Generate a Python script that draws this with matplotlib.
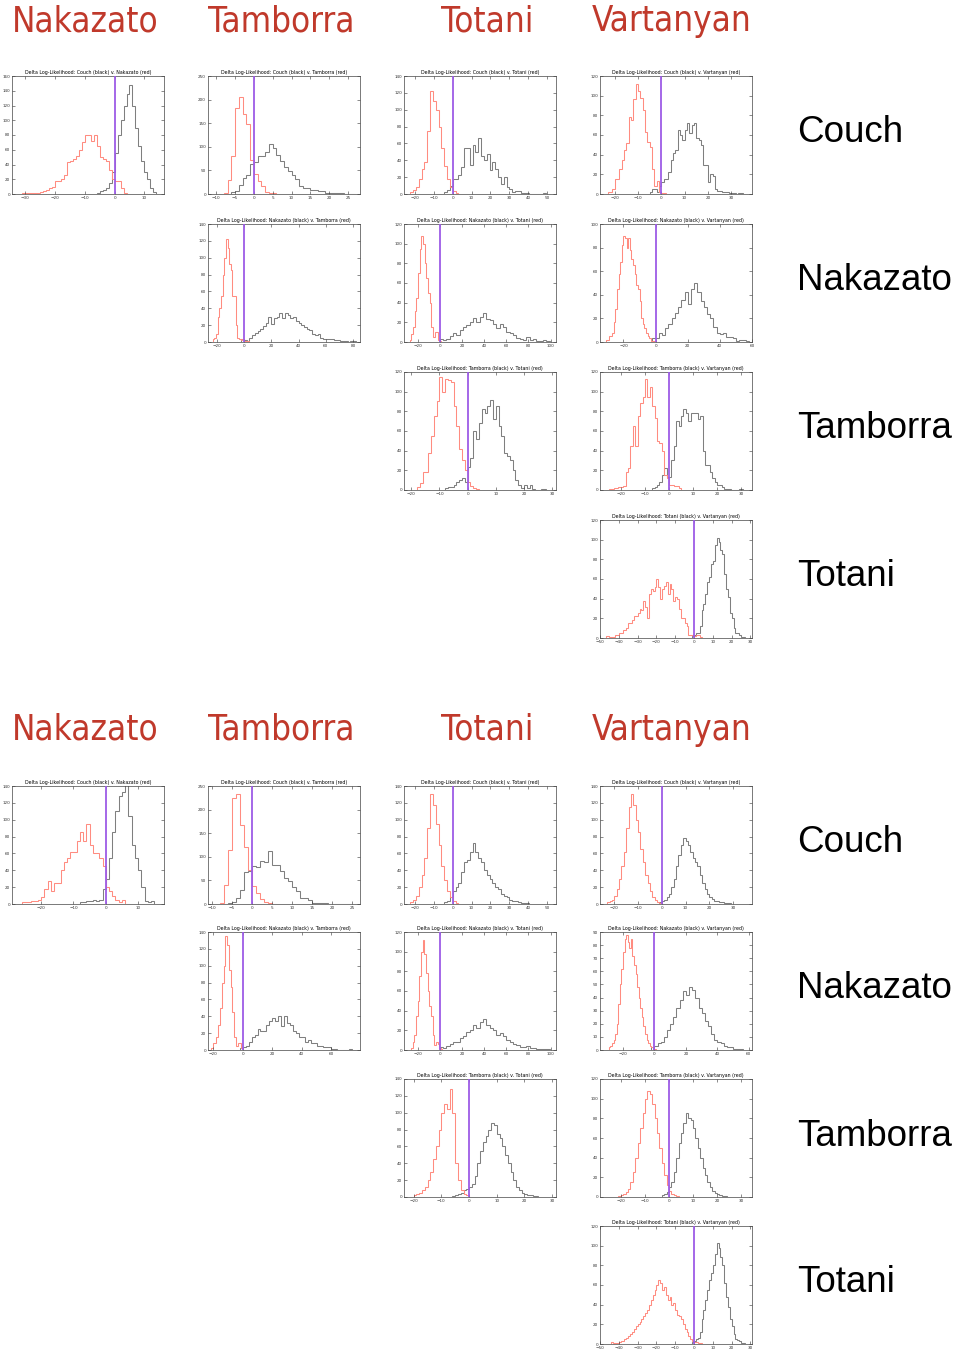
import numpy as np
import matplotlib
matplotlib.use("Agg")
import matplotlib.pyplot as plt
from matplotlib import font_manager
from matplotlib.font_manager import FontProperties
from matplotlib.ticker import MaxNLocator

ROWS = ["Couch", "Nakazato", "Tamborra", "Totani"]
COLS = ["Nakazato", "Tamborra", "Totani", "Vartanyan"]

# each histogram: (first bin edge, bin width, counts per bin)
# each axis: (xmin, xmax, ymax)

# --- upper block ---
top_cou_nak_black = (-6, 1.0, [2, 4, 6, 8, 15, 30, 55, 80, 100, 120, 135, 148, 120, 90, 65, 45, 30, 20, 8, 3])
top_cou_nak_red = (-31, 1.0, [1, 1, 1, 1, 2, 2, 3, 4, 6, 8, 9, 17, 18, 20, 26, 44, 45, 48, 52, 60, 70, 80, 80, 72,
                              80, 65, 50, 47, 45, 32, 20, 18, 17, 8, 2])
top_cou_nak_axis = (-34.5, 16.6, 160)

top_cou_tam_black = (-6, 1.0, [5, 7, 20, 33, 40, 63, 68, 80, 80, 90, 105, 97, 82, 70, 58, 48, 40, 32, 18, 12, 12, 8,
                               8, 6, 6, 3, 3, 2, 2, 2, 1, 1, 1])
top_cou_tam_red = (-8, 1.0, [3, 30, 80, 183, 205, 170, 148, 72, 43, 27, 18, 5, 2, 2])
top_cou_tam_axis = (-12.2, 28.2, 250)

top_cou_tot_black = (-4.5, 1.5, [2, 5, 10, 18, 18, 22, 32, 55, 54, 35, 58, 50, 66, 45, 40, 48, 28, 38, 30, 20, 12, 20,
                                 8, 6, 2, 3, 3, 1, 1, 1, 0, 0, 0, 0, 0, 1])
top_cou_tot_red = (-22.5, 1.5, [2, 5, 8, 18, 30, 38, 75, 122, 110, 100, 80, 55, 33, 18, 8, 3, 1])
top_cou_tot_axis = (-25.8, 54.7, 140)

top_cou_var_black = (-5, 1.0, [2, 5, 5, 2, 8, 12, 15, 15, 22, 35, 42, 45, 65, 60, 55, 65, 72, 62, 70, 72, 57, 55, 50,
                               30, 30, 12, 20, 18, 5, 3, 3, 2, 2, 2, 1, 1, 1, 0, 1, 1])
top_cou_var_red = (-23, 1.0, [2, 2, 5, 15, 15, 25, 35, 45, 52, 78, 75, 97, 112, 105, 98, 85, 63, 53, 48, 25, 8, 13, 2,
                              1, 1])
top_cou_var_axis = (-26.3, 38.9, 120)

top_nak_tam_black = (-2, 2.0, [3, 2, 1, 5, 8, 11, 13, 16, 19, 22, 30, 21, 28, 30, 34, 28, 35, 32, 28, 30, 25, 22, 20,
                               18, 15, 14, 10, 8, 9, 5, 4, 3, 4, 4, 2, 2, 1, 1, 1, 0, 1, 1])
top_nak_tam_red = (-22.8, 1.2, [3, 5, 10, 30, 40, 55, 80, 100, 122, 112, 92, 85, 55, 55, 20, 5, 3, 2, 3, 1, 1, 1])
top_nak_tam_axis = (-26.3, 85, 140)

top_nak_tot_black = (0, 3.0, [3, 2, 3, 6, 9, 7, 12, 15, 17, 20, 24, 20, 25, 30, 23, 22, 18, 14, 18, 15, 10, 9, 7, 4,
                              3, 2, 5, 2, 3, 1, 1, 2, 1])
top_nak_tot_red = (-27, 1.5, [2, 8, 15, 32, 45, 70, 95, 108, 100, 80, 65, 50, 40, 15, 5, 10, 10, 2, 1])
top_nak_tot_axis = (-32.2, 104.8, 120)

top_nak_var_black = (-2, 2.0, [3, 3, 8, 6, 12, 15, 20, 25, 30, 36, 42, 32, 45, 50, 42, 35, 30, 24, 20, 13, 8, 7, 8, 4,
                               4, 3, 1, 2, 2, 1])
top_nak_var_red = (-31, 1.0, [2, 2, 5, 5, 8, 17, 28, 45, 58, 68, 82, 90, 88, 80, 88, 78, 70, 65, 58, 48, 45, 35, 20,
                              15, 12, 8, 5, 3, 1, 1, 1])
top_nak_var_axis = (-34.6, 60, 100)

top_tam_tot_black = (-8, 1.0, [2, 3, 3, 5, 8, 10, 12, 8, 23, 33, 60, 52, 68, 82, 78, 85, 92, 72, 85, 65, 55, 38, 35,
                               30, 20, 10, 5, 2, 5, 2, 5, 1, 0, 0, 1, 1])
top_tam_tot_red = (-18, 1.0, [3, 7, 18, 18, 38, 55, 75, 90, 115, 100, 113, 112, 110, 85, 65, 42, 30, 20, 8, 4, 2, 1])
top_tam_tot_axis = (-22.6, 31.4, 120)

top_tam_var_black = (-7, 1.0, [2, 3, 5, 8, 15, 22, 13, 13, 30, 45, 70, 65, 75, 82, 78, 70, 78, 78, 78, 72, 75, 40, 25,
                               25, 18, 12, 8, 5, 5, 3, 1, 1, 1, 0, 0, 0, 1, 1])
top_tam_var_red = (-25, 1.0, [1, 1, 2, 2, 3, 3, 4, 18, 22, 45, 65, 45, 75, 88, 95, 113, 95, 105, 85, 73, 50, 48, 40,
                              15, 12, 5, 5, 4, 4, 2])
top_tam_var_axis = (-28.7, 34.6, 120)

top_tot_var_black = (-1, 1.0, [2, 3, 5, 5, 12, 28, 35, 45, 57, 62, 75, 78, 95, 102, 98, 90, 85, 65, 50, 42, 25, 20, 10,
                               5, 5, 3, 1, 1])
top_tot_var_red = (-47, 1.0, [2, 2, 1, 1, 1, 3, 3, 5, 5, 8, 8, 10, 15, 15, 18, 22, 22, 25, 30, 28, 38, 32, 20, 45, 50,
                              48, 52, 60, 52, 40, 50, 53, 57, 45, 55, 50, 38, 42, 40, 30, 20, 20, 15, 12, 3, 3, 3, 2,
                              3, 3, 1])
top_tot_var_axis = (-50, 30.8, 120)

# --- lower block ---
bot_cou_nak_black = (-8, 1.0, [2, 2, 3, 3, 5, 3, 5, 18, 30, 55, 85, 110, 128, 133, 150, 105, 70, 55, 40, 20, 3, 2, 3])
bot_cou_nak_red = (-26, 1.0, [2, 2, 2, 3, 3, 5, 8, 18, 27, 15, 25, 25, 40, 50, 55, 62, 62, 75, 85, 75, 95, 70, 60, 60,
                              55, 45, 20, 15, 10, 5, 2, 5])
bot_cou_nak_axis = (-29, 18, 140)

bot_cou_tam_black = (-6, 1.0, [2, 5, 12, 30, 68, 70, 80, 78, 92, 90, 112, 83, 82, 70, 55, 48, 35, 28, 12, 12, 8, 3, 2,
                               2, 2, 1, 1, 1, 1, 1, 1])
bot_cou_tam_red = (-8, 1.0, [3, 40, 115, 225, 233, 168, 120, 72, 38, 24, 10, 4, 2, 1])
bot_cou_tam_axis = (-11, 27, 250)

bot_cou_tot_black = (-4.5, 1.5, [2, 4, 8, 15, 20, 25, 38, 50, 52, 62, 72, 62, 55, 50, 40, 35, 30, 25, 20, 18, 12, 10,
                                 8, 5, 4, 3, 2, 1, 1, 1])
bot_cou_tot_red = (-22.5, 1.5, [2, 5, 10, 20, 35, 55, 90, 130, 118, 95, 70, 45, 28, 15, 8, 3, 1])
bot_cou_tot_axis = (-25.8, 54.7, 140)

bot_cou_var_black = (-1, 1.0, [2, 3, 5, 8, 12, 20, 30, 45, 58, 70, 78, 75, 70, 62, 55, 50, 45, 35, 25, 18, 12, 8, 6,
                               4, 3, 2, 2, 1, 1, 1])
bot_cou_var_red = (-23, 1.0, [2, 3, 5, 10, 18, 30, 45, 62, 90, 115, 130, 118, 100, 85, 65, 50, 35, 25, 15, 8, 5, 2, 1])
bot_cou_var_axis = (-26, 38, 140)

bot_nak_tam_black = (-2, 2.0, [2, 4, 5, 10, 15, 18, 25, 22, 22, 30, 35, 38, 35, 40, 28, 40, 32, 30, 22, 20, 15, 15,
                               10, 12, 8, 8, 5, 5, 3, 3, 3, 1, 1, 0, 0, 0, 0, 1])
bot_nak_tam_red = (-21.4, 1.2, [2, 8, 8, 15, 30, 50, 80, 100, 135, 125, 95, 75, 45, 15, 5, 8, 8, 2])
bot_nak_tam_axis = (-23.5, 79.3, 140)

bot_nak_tot_black = (0, 3.0, [3, 2, 4, 6, 8, 8, 12, 14, 18, 20, 25, 22, 28, 32, 25, 22, 20, 15, 17, 14, 10, 8, 6, 5,
                              3, 3, 4, 2, 2, 1, 1, 1, 1])
bot_nak_tot_red = (-26, 1.5, [2, 8, 15, 35, 50, 75, 100, 112, 98, 78, 60, 45, 35, 15, 5, 8, 6, 2, 1])
bot_nak_tot_axis = (-32.2, 104.8, 120)

bot_nak_var_black = (-2, 2.0, [2, 3, 5, 6, 10, 15, 20, 25, 32, 38, 45, 42, 48, 46, 40, 32, 28, 22, 18, 12, 8, 6, 5, 3,
                               2, 2, 1, 1, 1])
bot_nak_var_red = (-29, 1.0, [2, 3, 5, 8, 12, 20, 35, 50, 62, 75, 85, 88, 82, 78, 85, 72, 65, 58, 48, 40, 32, 25, 18,
                              12, 8, 5, 3, 2, 1, 1])
bot_nak_var_axis = (-34.6, 62, 90)

bot_tam_tot_black = (-6, 1.0, [1, 2, 3, 5, 8, 10, 12, 15, 25, 40, 55, 65, 72, 80, 88, 85, 75, 70, 60, 50, 40, 30, 20,
                               12, 8, 5, 3, 2, 2, 1, 1])
bot_tam_tot_red = (-20, 1.0, [2, 3, 5, 8, 12, 20, 30, 45, 60, 80, 100, 110, 105, 128, 100, 40, 20, 8, 4, 2])
bot_tam_tot_axis = (-23.5, 31.4, 140)

bot_tam_var_black = (-3, 1.0, [2, 3, 5, 10, 15, 25, 40, 55, 65, 75, 85, 80, 78, 70, 60, 50, 40, 30, 22, 15, 10, 6, 4,
                               3, 2, 1, 1])
bot_tam_var_red = (-21, 1.0, [1, 2, 3, 5, 8, 15, 25, 40, 55, 70, 85, 100, 108, 105, 95, 80, 65, 50, 35, 22, 12, 6, 3,
                              2, 1])
bot_tam_var_axis = (-28.7, 34.6, 120)

bot_tot_var_black = (-1, 1.0, [2, 3, 5, 6, 12, 25, 35, 45, 55, 65, 72, 80, 92, 103, 98, 88, 80, 62, 48, 38, 25, 18, 10,
                               5, 4, 3, 1, 1])
bot_tot_var_red = (-44, 1.0, [2, 1, 1, 1, 2, 3, 3, 5, 6, 8, 10, 12, 15, 18, 20, 22, 25, 28, 32, 35, 40, 45, 50, 55, 60,
                              65, 62, 55, 58, 50, 45, 48, 40, 42, 35, 30, 28, 25, 20, 15, 12, 8, 5, 3, 2, 2, 1, 1])
bot_tot_var_axis = (-50, 30.8, 120)

TOP = {
    ("Couch", "Nakazato"): (top_cou_nak_black, top_cou_nak_red, top_cou_nak_axis),
    ("Couch", "Tamborra"): (top_cou_tam_black, top_cou_tam_red, top_cou_tam_axis),
    ("Couch", "Totani"): (top_cou_tot_black, top_cou_tot_red, top_cou_tot_axis),
    ("Couch", "Vartanyan"): (top_cou_var_black, top_cou_var_red, top_cou_var_axis),
    ("Nakazato", "Tamborra"): (top_nak_tam_black, top_nak_tam_red, top_nak_tam_axis),
    ("Nakazato", "Totani"): (top_nak_tot_black, top_nak_tot_red, top_nak_tot_axis),
    ("Nakazato", "Vartanyan"): (top_nak_var_black, top_nak_var_red, top_nak_var_axis),
    ("Tamborra", "Totani"): (top_tam_tot_black, top_tam_tot_red, top_tam_tot_axis),
    ("Tamborra", "Vartanyan"): (top_tam_var_black, top_tam_var_red, top_tam_var_axis),
    ("Totani", "Vartanyan"): (top_tot_var_black, top_tot_var_red, top_tot_var_axis),
}
BOTTOM = {
    ("Couch", "Nakazato"): (bot_cou_nak_black, bot_cou_nak_red, bot_cou_nak_axis),
    ("Couch", "Tamborra"): (bot_cou_tam_black, bot_cou_tam_red, bot_cou_tam_axis),
    ("Couch", "Totani"): (bot_cou_tot_black, bot_cou_tot_red, bot_cou_tot_axis),
    ("Couch", "Vartanyan"): (bot_cou_var_black, bot_cou_var_red, bot_cou_var_axis),
    ("Nakazato", "Tamborra"): (bot_nak_tam_black, bot_nak_tam_red, bot_nak_tam_axis),
    ("Nakazato", "Totani"): (bot_nak_tot_black, bot_nak_tot_red, bot_nak_tot_axis),
    ("Nakazato", "Vartanyan"): (bot_nak_var_black, bot_nak_var_red, bot_nak_var_axis),
    ("Tamborra", "Totani"): (bot_tam_tot_black, bot_tam_tot_red, bot_tam_tot_axis),
    ("Tamborra", "Vartanyan"): (bot_tam_var_black, bot_tam_var_red, bot_tam_var_axis),
    ("Totani", "Vartanyan"): (bot_tot_var_black, bot_tot_var_red, bot_tot_var_axis),
}

W, H = 960, 1351
fig = plt.figure(figsize=(W / 100, H / 100), dpi=100)

COL_LEFT = [12, 208, 404, 600]
HEADER_X = [85, 281, 487, 672]
BLOCKS = [(TOP, [76, 224, 372, 520], 21), (BOTTOM, [786, 932, 1079, 1226], 730)]
AX_W, AX_H = 152, 118


def narrow_font():
    """Look for a narrow/condensed sans face; fall back to Roboto."""
    for entry in font_manager.fontManager.ttflist:
        name = entry.name.lower()
        stretch = str(entry.stretch).lower()
        if entry.style != "normal" or entry.weight not in (400, "normal", "regular"):
            continue
        if "mono" in name or "serif" in name and "sans" not in name:
            continue
        if "narrow" in name or "condensed" in name or stretch in ("condensed", "semi-condensed"):
            return FontProperties(fname=entry.fname)
    return FontProperties(family=["Roboto", "DejaVu Sans"])


HEADER_PROP = narrow_font()
LABEL_FONT = ["Liberation Sans", "DejaVu Sans"]

# size the header face so that "Nakazato" is about 146 px wide, as in the picture
probe = fig.text(0, 0, "Nakazato", fontproperties=HEADER_PROP, fontsize=30)
fig.canvas.draw()
header_size = 30 * 146 / probe.get_window_extent().width
probe.remove()


def draw_panel(ax, black, red, axis, rname, cname):
    for (lo, w, counts), col in ((black, "#7f7f7f"), (red, "#ff8c80")):
        counts = np.asarray(counts, dtype=float)
        edges = lo + w * np.arange(len(counts) + 1)
        ax.stairs(counts, edges, color=col, lw=0.75)
    ax.axvline(0, color="#9d5ce6", lw=1.3, zorder=5)
    xmin, xmax, ymax = axis
    ax.set_xlim(xmin, xmax)
    ax.set_ylim(0, ymax)
    ax.xaxis.set_major_locator(MaxNLocator(nbins=9, steps=[1, 2, 5, 10]))
    ax.yaxis.set_major_locator(MaxNLocator(nbins=9, steps=[1, 2, 5, 10]))
    ax.tick_params(direction="in", top=True, right=True, length=2, width=0.4,
                   labelsize=3, pad=1.5, colors="#333333")
    for sp in ax.spines.values():
        sp.set_linewidth(0.5)
        sp.set_color("#444444")
    ax.set_title(f"Delta Log-Likelihood: {rname} (black) v. {cname} (red)",
                 fontsize=3.4, pad=1.5)


for data, row_tops, header_y in BLOCKS:
    for cx, cname in zip(HEADER_X, COLS):
        fig.text(cx / W, 1 - header_y / H, cname, ha="center", va="center",
                 color="#c0392b", fontproperties=HEADER_PROP, fontsize=header_size)
    for r, rname in enumerate(ROWS):
        fig.text(797 / W, 1 - (row_tops[r] + 57) / H, rname, ha="left", va="center",
                 color="black", fontsize=26.5, family=LABEL_FONT)
        for c, cname in enumerate(COLS):
            if (rname, cname) not in data:
                continue
            black, red, axis = data[(rname, cname)]
            ax = fig.add_axes([COL_LEFT[c] / W, 1 - (row_tops[r] + AX_H) / H, AX_W / W, AX_H / H])
            draw_panel(ax, black, red, axis, rname, cname)

fig.savefig("out.png", dpi=100)
